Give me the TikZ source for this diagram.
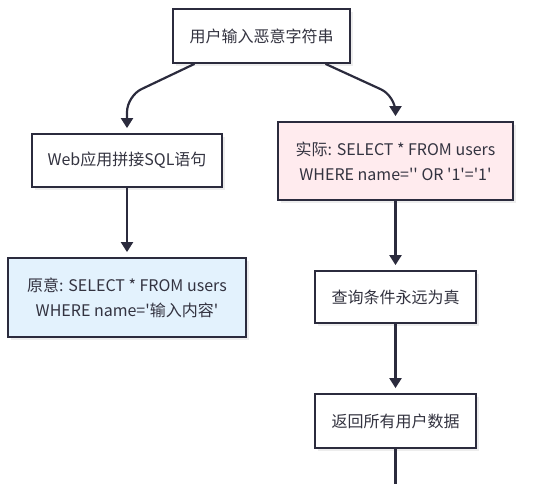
\documentclass[tikz,border=0pt]{standalone}
\usepackage{fontspec}
\setmainfont{Noto Sans CJK SC}
\usepackage{xcolor}
\usetikzlibrary{arrows.meta,shadows}
\definecolor{edge}{HTML}{2B2B3D}
\definecolor{txt}{HTML}{333340}
\definecolor{redfill}{HTML}{FFEBEE}
\definecolor{bluefill}{HTML}{E3F2FD}
\newcommand{\q}{\textquotesingle}
\begin{document}
\begin{tikzpicture}
    [x=1pt,y=-1pt,
     box/.style={draw=edge,line width=1.8pt,fill=white,align=center,
        text=txt,font=\fontsize{16}{25}\selectfont,inner sep=0pt,
        drop shadow={shadow xshift=3pt,shadow yshift=-3pt,fill=black!7,opacity=1}},
     flow/.style={draw=edge,line width=2.2pt,rounded corners=16pt,
        -{Triangle[length=10pt,width=12pt]},shorten >=5pt}]
\useasboundingbox (0,0) rectangle (553,484);
\path
    (261.5,36) node [box,minimum width=177pt,minimum height=54pt] (input) {用户输入恶意字符串}
    (127,160.5) node [box,minimum width=190pt,minimum height=53pt] (concat) {Web应用拼接SQL语句}
    (395.5,161) node [box,fill=redfill,minimum width=235pt,minimum height=78pt] (actual)
        {实际: SELECT * FROM users\\WHERE name=\q\q{} OR \q1\q=\q1\q}
    (127,297.5) node [box,fill=bluefill,minimum width=238pt,minimum height=79pt] (intent)
        {原意: SELECT * FROM users\\WHERE name=\q 输入内容\q}
    (395.5,297) node [box,minimum width=161pt,minimum height=52pt] (always) {查询条件永远为真}
    (395.5,421) node [box,minimum width=161pt,minimum height=54pt] (dump) {返回所有用户数据};
\coordinate (lbend) at (127,96);
\coordinate (rbend) at (395.5,96);
\coordinate (out) at (395.5,484);
\draw [flow] ([xshift=-67pt]input.south) -- (lbend) -- (concat.north);
\draw [flow] ([xshift=64pt]input.south) -- (rbend) -- (actual.north);
\draw [flow] (concat) -- (intent);
\draw [flow] (actual) -- (always);
\draw [flow] (always) -- (dump);
\draw [flow,-,shorten >=0pt] (dump) -- (out);
\end{tikzpicture}
\end{document}
